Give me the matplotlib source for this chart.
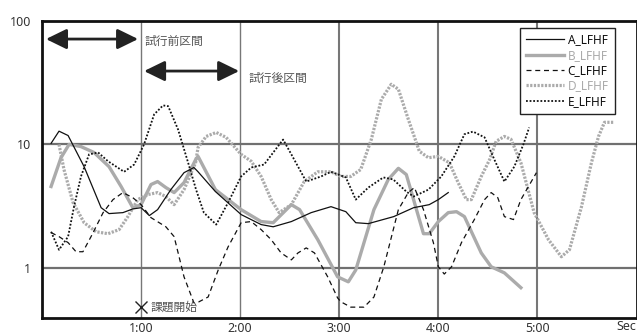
import matplotlib
matplotlib.use("Agg")
import matplotlib.pyplot as plt
from matplotlib.ticker import FixedLocator, NullLocator

# time in seconds, LF/HF values
t_a = [5.5, 10.3, 15.8, 25.5, 35.8, 40.6, 49, 55, 60, 65, 70, 78, 86, 92, 94.5, 105, 120.6,
       132.7, 140, 151, 163, 175, 184, 190, 197.6, 213, 225, 234.5, 240, 246]
a_lfhf = [10.2, 12.8, 11.8, 6.6, 3.07, 2.75, 2.8, 3.0, 3.07, 2.65, 2.96, 4.3, 5.9, 6.5, 6.0, 4.15, 2.7,
          2.24, 2.15, 2.37, 2.8, 3.13, 2.85, 2.32, 2.28, 2.6, 3.07, 3.25, 3.57, 4.07]

t_b = [5.5, 11.5, 16.4, 23.6, 31.5, 40.6, 47.9, 55, 60, 66, 70, 75, 80, 86, 93, 94.5, 105, 120.6,
       132.7, 140, 151, 156, 167, 179, 185.5, 190, 201, 209.7, 215.8, 220.6, 231, 234.5, 240,
       246, 251, 255.8, 266, 272, 280, 290]
b_lfhf = [4.56, 7.8, 10, 9.6, 8.6, 6.6, 4.56, 3.07, 3.25, 4.73, 5.0, 4.47, 4.07, 4.9, 7.5, 8.0, 4.3, 2.96,
          2.37, 2.32, 3.25, 2.96, 1.69, 0.845, 0.77, 0.96, 2.96, 5.2, 6.4, 5.7, 1.89, 1.89, 2.37,
          2.8, 2.85, 2.6, 1.32, 1.02, 0.91, 0.69]

t_c = [5.5, 10.3, 15.8, 20.6, 24.8, 29.7, 37, 43, 49, 55, 60, 66, 75, 80, 86, 92, 95, 100.6, 106.7,
       112.7, 120.6, 126.7, 132.7, 138.8, 144.8, 151, 155, 160, 165, 173, 179, 181, 187, 195, 201,
       207, 215.8, 221.8, 225.5, 231, 237, 240, 243.6, 248, 254, 261.8, 268, 272, 276, 280,
       285.5, 290, 299.4]
c_lfhf = [1.93, 1.79, 1.6, 1.35, 1.35, 1.79, 2.8, 3.57, 4.07, 3.7, 3.25, 2.55, 2.15, 1.79, 0.845, 0.52,
          0.53, 0.58, 0.96, 1.48, 2.32, 2.37, 2.04, 1.69, 1.32, 1.16, 1.32, 1.45, 1.32, 0.845, 0.57,
          0.53, 0.48, 0.48, 0.58, 1.02, 2.96, 4.07, 4.47, 2.96, 1.6, 1.02, 0.89, 1.02, 1.6, 2.46,
          3.57, 4.07, 3.7, 2.6, 2.46, 3.57, 5.9]

t_d = [10.3, 13.3, 18.8, 25.5, 32.7, 40, 46.7, 52, 58, 64, 70, 75, 80, 86, 93, 94.5, 99.4, 105.5,
       111.5, 120.6, 126.7, 132.7, 138.8, 143.6, 151, 158.8, 167, 175, 181, 187, 193, 199.4,
       205.5, 211.5, 215.8, 221.8, 228.5, 234, 240, 246.7, 252, 257, 260, 266, 271, 275, 280,
       284, 290, 298, 306.7, 314.5, 319.4, 326.7, 332.7, 337, 340.6, 346]
d_lfhf = [10, 6.26, 3.38, 2.32, 1.96, 1.89, 2.04, 2.6, 3.57, 3.92, 4.07, 3.78, 3.25, 4.3, 7.1, 9.45,
          11.6, 12.5, 11.4, 8.3, 7.3, 5.5, 3.57, 2.8, 3.25, 5.0, 6.0, 6.0, 5.5, 5.5, 6.26, 10.95,
          23.2, 30.7, 28, 16, 8.8, 7.8, 8.0, 7.1, 4.9, 3.57, 3.57, 5.5, 7.5, 10.6, 11.6, 11.0,
          7.1, 2.8, 1.69, 1.23, 1.4, 3.13, 7.1, 11.6, 15.1, 15.1]

t_e = [5.5, 10.3, 15.8, 19.4, 23.6, 28.5, 34, 40, 49.7, 55.8, 61.8, 67.9, 73.3, 76.4, 82.4, 88.5,
       93.3, 98, 105.5, 112.7, 120.6, 126.7, 134.5, 146, 151, 160, 169, 175, 184, 190, 197.6,
       206.7, 212.7, 220.6, 225, 234, 241.8, 249.7, 255.8, 261, 268, 274, 280, 286, 291.5, 295]
e_lfhf = [1.96, 1.4, 1.79, 3.13, 5.5, 8.3, 8.6, 7.3, 6.0, 6.87, 10, 17.5, 20.7, 20.4, 13.2, 7.1,
          4.3, 2.8, 2.24, 3.38, 5.5, 6.5, 6.87, 10.95, 8.3, 5.0, 5.5, 6.0, 5.4, 3.57, 4.47,
          5.4, 5.2, 4.15, 3.78, 4.3, 5.5, 8.0, 12.1, 12.7, 11.4, 7.5, 5.0, 6.6, 10, 13.7]

x_ticks = [60, 120, 180, 240, 300]
x_labels = ["1:00", "2:00", "3:00", "4:00", "5:00"]
y_ticks = [1, 10, 100]
y_labels = ["1", "10", "100"]

jp = ["Noto Sans CJK JP", "DejaVu Sans"]
gray = "#ababab"

fig = plt.figure(figsize=(6.37, 3.34), dpi=100)
ax = fig.add_axes([42 / 637, 16 / 334, 594.5 / 637, 297 / 334])
ax.set_yscale("log")
ax.set_xlim(0, 360)
ax.set_ylim(0.392, 100)

# grid (first two verticals are thinner in the original)
for x, w in zip(x_ticks, [1.0, 1.0, 1.5, 1.5, 1.5]):
    ax.axvline(x, color="#777777", lw=w, zorder=1)
for y in [1, 10]:
    ax.axhline(y, color="#707070", lw=1.6, zorder=1)

ax.plot(t_a, a_lfhf, color="#111111", lw=0.9, label="A_LFHF", zorder=3)
ax.plot(t_b, b_lfhf, color=gray, lw=2.4, label="B_LFHF", zorder=2)
ax.plot(t_c, c_lfhf, color="#111111", lw=0.9, dashes=(4, 3), label="C_LFHF", zorder=3)
ax.plot(t_d, d_lfhf, color=gray, lw=2.3, dashes=(0.7, 0.45), label="D_LFHF", zorder=2)
ax.plot(t_e, e_lfhf, color="#111111", lw=1.3, dashes=(1, 1), label="E_LFHF", zorder=3)

leg = ax.legend(loc="upper right", bbox_to_anchor=(0.963, 0.978), borderaxespad=0,
                frameon=True, fancybox=False, framealpha=1, edgecolor="#222222",
                prop={"family": "Noto Sans", "size": 8.5}, handlelength=3.2,
                handletextpad=0.3, labelspacing=0.2, borderpad=0.5)
leg.get_frame().set_linewidth(1.0)
for txt, col in zip(leg.get_texts(), ["#111111", gray, "#111111", gray, "#111111"]):
    txt.set_color(col)

# interval arrows
ax.annotate("", xy=(58.2, 71.4), xytext=(2.4, 71.4),
            arrowprops=dict(arrowstyle="<|-|>,head_length=0.45,head_width=0.22", color="#222222",
                            lw=2, mutation_scale=28, shrinkA=0, shrinkB=0))
ax.annotate("", xy=(119.4, 39.3), xytext=(61.8, 39.3),
            arrowprops=dict(arrowstyle="<|-|>,head_length=0.45,head_width=0.22", color="#222222",
                            lw=2, mutation_scale=28, shrinkA=0, shrinkB=0))
ax.text(62.4, 68.8, "試行前区間", family=jp, fontsize=8.5, color="#555555", va="center", ha="left")
ax.text(124.8, 34.5, "試行後区間", family=jp, fontsize=8.5, color="#555555", va="center", ha="left")

ax.plot([60], [0.48], marker="x", color="#222222", markersize=8, mew=1, zorder=4)
ax.text(66, 0.48, "課題開始", family=jp, fontsize=8.5, color="#555555", va="center", ha="left")

ax.xaxis.set_major_locator(FixedLocator(x_ticks))
ax.set_xticklabels(x_labels)
ax.yaxis.set_major_locator(FixedLocator(y_ticks))
ax.yaxis.set_minor_locator(NullLocator())
ax.set_yticklabels(y_labels)
ax.tick_params(length=0, labelsize=9, colors="#333333")
ax.tick_params(axis="x", pad=3)
ax.tick_params(axis="y", pad=8)
for lab in ax.get_xticklabels() + ax.get_yticklabels():
    lab.set_family("Noto Sans")
fig.text(636 / 637, 7 / 334, "Sec", ha="right", va="center",
         family="Noto Sans", fontsize=9, color="#333333")

for side in ["left", "top", "bottom", "right"]:
    ax.spines[side].set_linewidth(2)
    ax.spines[side].set_color("#111111")

fig.savefig("out.png", dpi=100)
